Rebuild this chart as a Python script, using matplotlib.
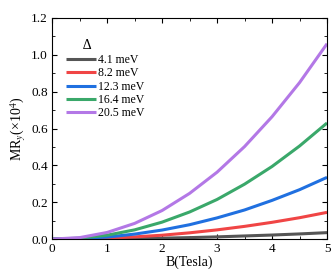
import matplotlib
matplotlib.use("Agg")
import matplotlib.pyplot as plt
from matplotlib.ticker import MultipleLocator

plt.rcParams['font.family'] = ['Liberation Serif', 'DejaVu Serif']
plt.rcParams['mathtext.fontset'] = 'stix'

B = [0, 0.5, 1, 1.5, 2, 2.5, 3, 3.5, 4, 4.5, 5]
labels = ["4.1 meV", "8.2 meV", "12.3 meV", "16.4 meV", "20.5 meV"]
mr_41 = [0, 0.000, 0.001, 0.003, 0.005, 0.008, 0.012, 0.017, 0.022, 0.028, 0.035]
mr_82 = [0, 0.001, 0.005, 0.012, 0.021, 0.034, 0.050, 0.069, 0.091, 0.116, 0.145]
mr_123 = [0, 0.003, 0.011, 0.027, 0.049, 0.078, 0.115, 0.158, 0.210, 0.268, 0.335]
mr_164 = [0, 0.005, 0.021, 0.050, 0.092, 0.147, 0.215, 0.298, 0.394, 0.505, 0.63]
mr_205 = [0, 0.008, 0.036, 0.085, 0.155, 0.248, 0.363, 0.502, 0.664, 0.849, 1.06]
colors = ["#555555", "#f04545", "#2070e0", "#3aa86a", "#b378e6"]

fig = plt.figure(figsize=(3.32, 2.72), dpi=100)
ax = fig.add_axes([0.157, 0.121, 0.828, 0.813])
for ys, c, lab in zip([mr_41, mr_82, mr_123, mr_164, mr_205], colors, labels):
    ax.plot(B, ys, color=c, lw=2.2, label=lab, solid_capstyle='butt')

ax.set_xlim(0, 5)
ax.set_ylim(0, 1.2)
ax.xaxis.set_major_locator(MultipleLocator(1))
ax.xaxis.set_minor_locator(MultipleLocator(0.5))
ax.yaxis.set_major_locator(MultipleLocator(0.2))
ax.yaxis.set_minor_locator(MultipleLocator(0.1))
ax.tick_params(which='both', direction='in', top=True, right=True, labelsize=9.5, pad=3)
ax.tick_params(which='major', length=3.5, width=0.8)
ax.tick_params(which='minor', length=2, width=0.6)
ax.set_xlabel("B(Tesla)", fontsize=10, labelpad=0)
ax.set_ylabel(r"MR$_y$(×10$^4$)", fontsize=10, labelpad=2)

leg = ax.legend(loc='upper left', bbox_to_anchor=(0.025, 0.935), frameon=False,
                title="     Δ", alignment='left', fontsize=8.5, title_fontsize=10,
                handlelength=2.55, handletextpad=0.15, labelspacing=0.12,
                borderaxespad=0.2)

fig.savefig("out.png", dpi=100)
